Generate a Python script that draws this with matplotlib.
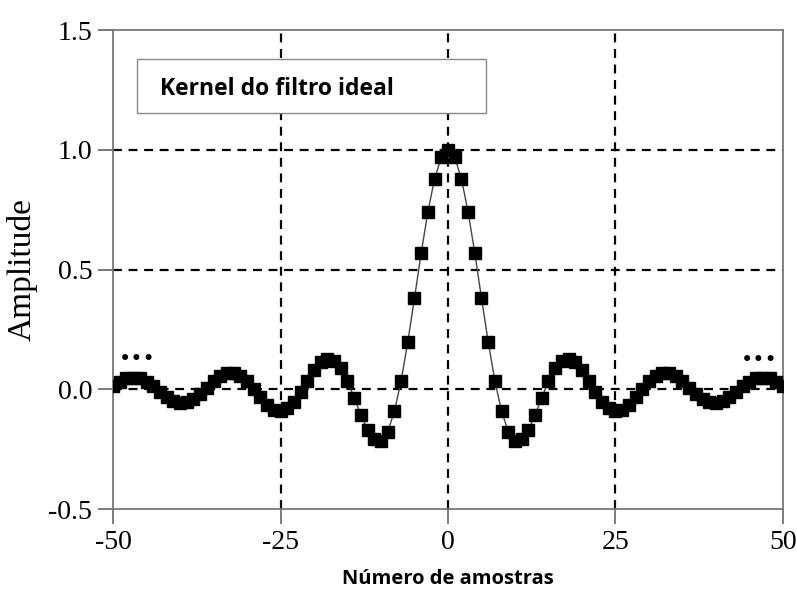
import numpy as np
import matplotlib.pyplot as plt
from matplotlib.patches import Rectangle

# amostras do kernel (n = -50 ... 50)
amostras = list(range(-50, 51))
amplitude = [
    0.014, 0.032, 0.045, 0.049, 0.045, 0.031, 0.012, -0.011, -0.033, -0.049,
    -0.058, -0.055, -0.042, -0.020, 0.006, 0.034, 0.056, 0.069, 0.070, 0.057,
    0.033, 0.001, -0.034, -0.065, -0.085, -0.091, -0.080, -0.052, -0.012, 0.035,
    0.079, 0.113, 0.128, 0.120, 0.088, 0.034, -0.035, -0.107, -0.170, -0.209,
    -0.214, -0.177, -0.092, 0.035, 0.198, 0.381, 0.569, 0.741, 0.879, 0.969,
    1.000,
    0.969, 0.879, 0.741, 0.569, 0.381, 0.198, 0.035, -0.092, -0.177, -0.214,
    -0.209, -0.170, -0.107, -0.035, 0.034, 0.088, 0.120, 0.128, 0.113, 0.079,
    0.035, -0.012, -0.052, -0.080, -0.091, -0.085, -0.065, -0.034, 0.001, 0.033,
    0.057, 0.070, 0.069, 0.056, 0.034, 0.006, -0.020, -0.042, -0.055, -0.058,
    -0.049, -0.033, -0.011, 0.012, 0.031, 0.045, 0.049, 0.045, 0.032, 0.014,
]

xticks = [-50, -25, 0, 25, 50]
yticks = [-0.5, 0.0, 0.5, 1.0, 1.5]
xtick_labels = ['-50', '-25', '0', '25', '50']
ytick_labels = ['-0.5', '0.0', '0.5', '1.0', '1.5']

serif = 'Liberation Serif'
sans = 'Open Sans'

fig = plt.figure(figsize=(7.97, 5.91), dpi=100)
ax = fig.add_axes([0.1418, 0.1387, 0.8406, 0.8105])

# grade tracejada só nas linhas internas
dash = (0, (4, 3))
for x in xticks[1:-1]:
    ax.axvline(x, color='black', lw=1.6, ls=dash, zorder=1)
for y in yticks[1:-1]:
    ax.axhline(y, color='black', lw=1.6, ls=dash, zorder=1)

ax.plot(amostras, amplitude, color='#444444', lw=1.0, zorder=2)
ax.plot(amostras, amplitude, ls='none', marker='s', ms=8, color='black', zorder=3)

# reticências indicando que o kernel continua
ax.text(-46.4, 0.128, '•••', ha='center', va='center', fontsize=15, family='DejaVu Sans')
ax.text(46.4, 0.123, '•••', ha='center', va='center', fontsize=15, family='DejaVu Sans')

ax.set_xlim(-50, 50)
ax.set_ylim(-0.5, 1.5)
ax.set_xticks(xticks)
ax.set_xticklabels(xtick_labels, family=serif, fontsize=20)
ax.set_yticks(yticks)
ax.set_yticklabels(ytick_labels, family=serif, fontsize=20)
ax.tick_params(direction='out', length=11, width=1.2, color='#666666', pad=4)

for s in ax.spines.values():
    s.set_color('#777777')
    s.set_linewidth(1.3)

ax.set_ylabel('Amplitude', family=serif, fontsize=24, labelpad=8)
ax.set_xlabel('Número de amostras', family=sans, fontweight='bold', fontsize=14.5, labelpad=10)

# caixa com o título
ax.add_patch(Rectangle((0.036, 0.827), 0.521, 0.112, transform=ax.transAxes,
                       facecolor='white', edgecolor='#888888', lw=1.0, zorder=4))
ax.text(0.070, 0.877, 'Kernel do filtro ideal', transform=ax.transAxes,
        family=sans, fontweight='bold', fontsize=16.5, va='center', ha='left', zorder=5)

fig.savefig('out.png', dpi=100)
